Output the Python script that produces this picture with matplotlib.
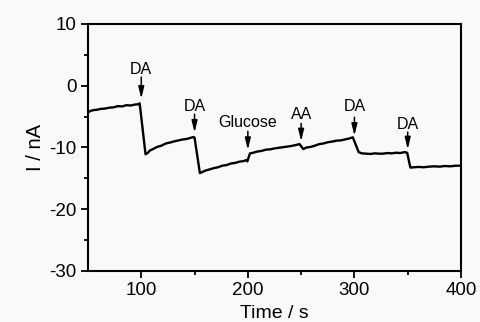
import matplotlib
matplotlib.use("Agg")
import matplotlib.pyplot as plt
from matplotlib.ticker import MultipleLocator, FixedLocator

plt.rcParams['font.family'] = ['Liberation Sans', 'DejaVu Sans']
plt.rcParams['axes.unicode_minus'] = False

time_s = [50, 52, 55, 58, 62, 66, 70, 74, 78, 82, 86, 90, 94, 97, 98.5,
          104, 106, 108, 111, 115, 119, 123, 127, 131, 135, 139, 143, 146, 149, 150,
          155, 157, 160, 164, 168, 172, 176, 180, 184, 188, 192, 196, 198.5, 199.5,
          202, 205, 209, 213, 217, 221, 225, 229, 233, 237, 241, 245, 248.5,
          252, 255, 259, 263, 267, 271, 275, 279, 283, 287, 291, 295, 298.5,
          304, 307, 311, 315, 319, 323, 327, 331, 335, 339, 343, 347, 349.5,
          352.5, 356, 360, 365, 370, 375, 380, 385, 390, 395, 400]
current_nA = [-4.35, -4.1, -3.95, -3.9, -3.75, -3.7, -3.55, -3.5, -3.3, -3.35, -3.15, -3.2, -3.05, -3.0, -2.85,
              -11.1, -10.9, -10.5, -10.25, -9.9, -9.7, -9.35, -9.2, -9.0, -8.85, -8.7, -8.6, -8.45, -8.3, -8.4,
              -14.15, -14.0, -13.75, -13.55, -13.35, -13.2, -12.95, -12.85, -12.6, -12.5, -12.3, -12.2, -12.05, -12.25,
              -10.95, -10.85, -10.65, -10.55, -10.35, -10.3, -10.15, -10.05, -9.95, -9.85, -9.75, -9.6, -9.45,
              -10.25, -10.0, -9.9, -9.7, -9.45, -9.35, -9.15, -9.05, -8.9, -8.85, -8.7, -8.55, -8.35,
              -10.75, -10.95, -11.0, -11.05, -10.95, -11.0, -11.0, -10.9, -10.95, -10.85, -10.9, -10.75, -10.85,
              -13.25, -13.2, -13.15, -13.2, -13.1, -13.05, -13.1, -13.0, -13.05, -12.95, -12.95]

ann_time = [100, 150, 200, 250, 300, 350]
ann_text = ['DA', 'DA', 'Glucose', 'AA', 'DA', 'DA']
ann_text_y = [2.7, -3.3, -6.0, -4.6, -3.4, -6.2]
ann_tail_y = [1.4, -4.6, -7.4, -6.1, -5.1, -7.5]
ann_tip_y = [-2.1, -7.6, -10.4, -9.0, -8.1, -10.3]

fig = plt.figure(figsize=(4.8, 3.22), dpi=100, facecolor='#f9f9f9')
ax = fig.add_axes([0.1833, 0.1584, 0.7771, 0.7671], facecolor='#f9f9f9')

ax.plot(time_s, current_nA, color='black', lw=1.7, solid_joinstyle='round')

for x, txt, ty, t0, t1 in zip(ann_time, ann_text, ann_text_y, ann_tail_y, ann_tip_y):
    ax.text(x, ty, txt, ha='center', va='center', fontsize=11.5)
    ax.annotate('', xy=(x, t1), xytext=(x, t0),
                arrowprops=dict(arrowstyle='-|>,head_length=0.7,head_width=0.17',
                                color='black', lw=1.1,
                                mutation_scale=10, shrinkA=0, shrinkB=0))

ax.set_xlim(50, 400)
ax.set_ylim(-30, 10)
ax.xaxis.set_major_locator(FixedLocator([100, 200, 300, 400]))
ax.xaxis.set_minor_locator(FixedLocator([150, 250, 350]))
ax.yaxis.set_major_locator(MultipleLocator(10))
ax.yaxis.set_minor_locator(MultipleLocator(5))
ax.tick_params(which='major', direction='out', length=5, width=1.3, labelsize=13.5, pad=3)
ax.tick_params(which='minor', direction='out', length=3, width=1.3)
for s in ax.spines.values():
    s.set_linewidth(1.5)

ax.set_xlabel('Time / s', fontsize=14, labelpad=4)
ax.set_ylabel('I / nA', fontsize=14.5, labelpad=3)

fig.savefig('out.png', dpi=100, facecolor=fig.get_facecolor())
